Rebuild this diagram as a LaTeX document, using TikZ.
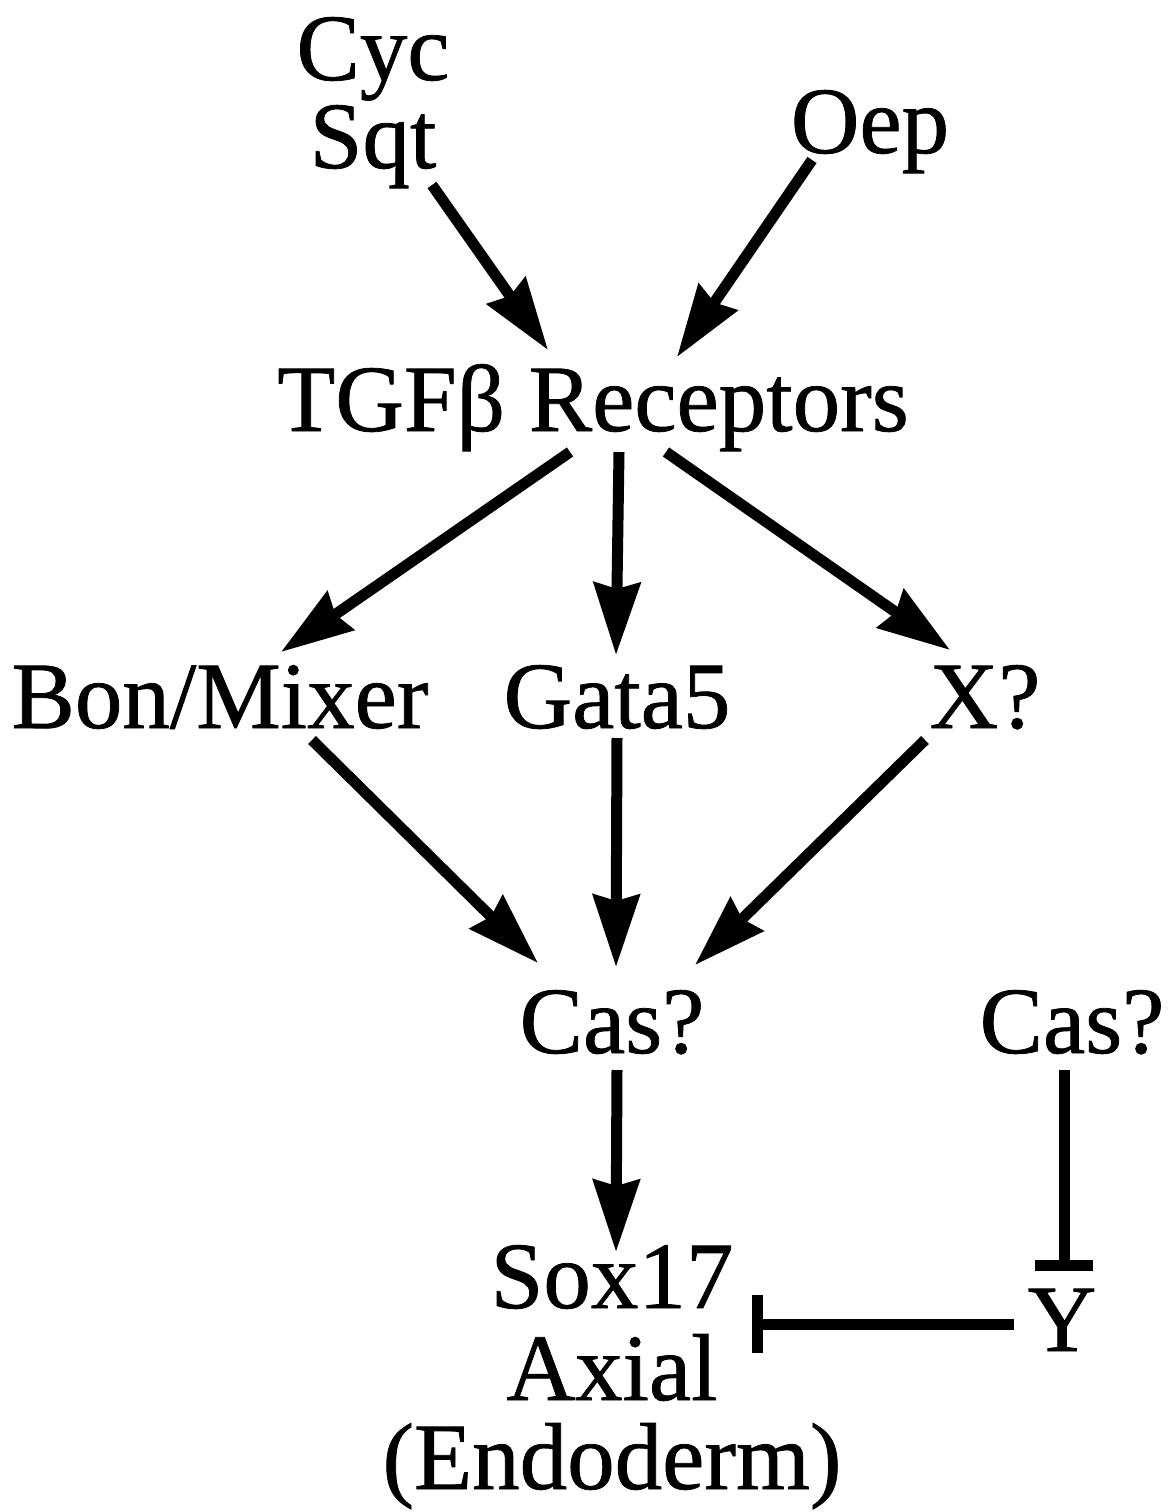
\documentclass[tikz,border=0pt]{standalone}
\usepackage{fontspec}
\setmainfont{Liberation Serif}
\newfontfamily\lblfont{Liberation Serif}[FakeBold=0.8]
\usetikzlibrary{arrows.meta}
\begin{document}
\begin{tikzpicture}[x=1pt,y=-1pt,
  lbl/.style={font=\lblfont\fontsize{95}{100}\selectfont, inner sep=0pt, anchor=base},
  act/.style={line width=11pt, -{Stealth[length=72pt,width=46pt,inset=6pt]}},
  inh/.style={line width=11pt, -{Bar[width=58pt]}}]
\useasboundingbox (0,0) rectangle (1172,1512);
% nodes (x = centre, y = baseline, image coordinates)
\node[lbl] (cyc)  at (373,80)   {Cyc};
\node[lbl] (sqt)  at (373,168)  {Sqt};
\node[lbl] (oep)  at (870,153)  {Oep};
\node[lbl] (tgf)  at (593,431)  {TGFβ Receptors};
\node[lbl] (bon)  at (220,728)  {Bon/Mixer};
\node[lbl] (gata) at (617,728)  {Gata5};
\node[lbl] (x)    at (985,728)  {X?};
\node[lbl] (cas)  at (612,1053) {Cas?};
\node[lbl] (cas2) at (1072,1053){Cas?};
\node[lbl] (sox)  at (612,1308) {Sox17};
\node[lbl] (axial) at (612,1400) {Axial};
\node[lbl] (endo) at (612,1489) {(Endoderm)};
\node[lbl] (y)    at (1062,1351) {Y};
% activating arrows
\draw[act] ([shift={(59,17)}]sqt.base)  -- ([shift={(-45,-81)}]tgf.base);
\draw[act] ([shift={(-58,7)}]oep.base)  -- ([shift={(84,-74)}]tgf.base);
\draw[act] ([shift={(-23,21)}]tgf.base) -- ([shift={(61,-76)}]bon.base);
\draw[act] ([shift={(26,21)}]tgf.base)  -- ([shift={(-1,-73)}]gata.base);
\draw[act] ([shift={(73,21)}]tgf.base)  -- ([shift={(-35,-78)}]x.base);
\draw[act] ([shift={(92,12)}]bon.base)  -- ([shift={(-74,-90)}]cas.base);
\draw[act] ([shift={(0,10)}]gata.base)  -- ([shift={(4,-86)}]cas.base);
\draw[act] ([shift={(-60,12)}]x.base)   -- ([shift={(83,-88)}]cas.base);
\draw[act] ([shift={(5,17)}]cas.base)   -- ([shift={(4,-56)}]sox.base);
% inhibitory connectors
\draw[inh] ([shift={(-8,17)}]cas2.base) -- ([shift={(2,-80)}]y.base);
\draw[inh] ([shift={(-48,-27)}]y.base)  -- ([shift={(140,16)}]sox.base);
\end{tikzpicture}
\end{document}
